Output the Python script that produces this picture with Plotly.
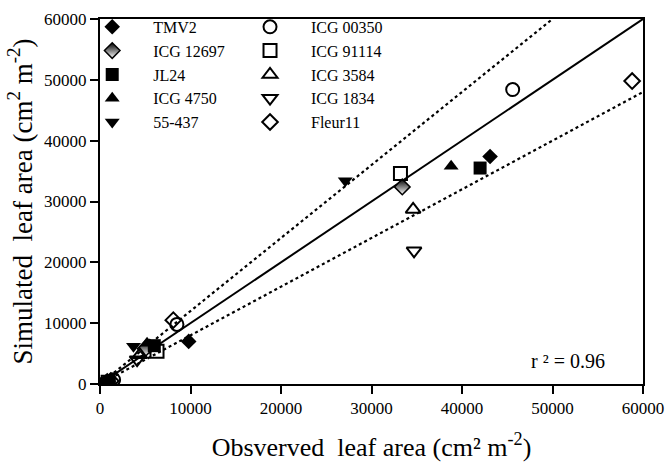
import plotly.graph_objects as go

# ---------------- data ----------------
series_names = ["TMV2", "ICG 12697", "JL24", "ICG 4750", "55-437",
                "ICG 00350", "ICG 91114", "ICG 3584", "ICG 1834", "Fleur11"]

tmv2_obs = [600, 5500, 9800, 43100]
tmv2_sim = [300, 6200, 7000, 37400]
icg12697_obs = [800, 5000, 33400]
icg12697_sim = [400, 5800, 32400]
jl24_obs = [1000, 6000, 42000]
jl24_sim = [200, 6300, 35500]
icg4750_obs = [700, 5200, 38800]
icg4750_sim = [500, 6700, 35800]
s55437_obs = [500, 3700, 27100]
s55437_sim = [300, 6200, 33400]
icg00350_obs = [1500, 8500, 45600]
icg00350_sim = [700, 9800, 48400]
icg91114_obs = [900, 6300, 33200]
icg91114_sim = [300, 5400, 34600]
icg3584_obs = [600, 4400, 34600]
icg3584_sim = [200, 4800, 28700]
icg1834_obs = [400, 4100, 34700]
icg1834_sim = [400, 4000, 21900]
fleur11_obs = [1200, 8100, 58800]
fleur11_sim = [500, 10500, 49800]

one_to_one_x = [0, 60000]
one_to_one_y = [0, 60000]
upper_x = [0, 50000]
upper_y = [0, 60000]
lower_x = [0, 60000]
lower_y = [0, 48000]

axis_ticks = [0, 10000, 20000, 30000, 40000, 50000, 60000]
r2_text = "r ² = 0.96"

FONT = "Liberation Serif, Times New Roman, serif"

fig = go.Figure()

# reference lines
fig.add_trace(go.Scatter(x=one_to_one_x, y=one_to_one_y, mode="lines",
                         line=dict(color="black", width=2), showlegend=False, hoverinfo="skip"))
fig.add_trace(go.Scatter(x=upper_x, y=upper_y, mode="lines",
                         line=dict(color="black", width=2.2, dash="dot"), showlegend=False, hoverinfo="skip"))
fig.add_trace(go.Scatter(x=lower_x, y=lower_y, mode="lines",
                         line=dict(color="black", width=2.2, dash="dot"), showlegend=False, hoverinfo="skip"))

col1 = [
    ("TMV2", tmv2_obs, tmv2_sim, dict(symbol="diamond", size=12, color="black")),
    ("ICG 12697", icg12697_obs, icg12697_sim,
     dict(symbol="diamond", size=12, color="black",
          gradient=dict(type="vertical", color="white"),
          line=dict(color="black", width=1.5))),
    ("JL24", jl24_obs, jl24_sim, dict(symbol="square", size=13, color="black")),
    ("ICG 4750", icg4750_obs, icg4750_sim, dict(symbol="triangle-up", size=13, color="black")),
    ("55-437", s55437_obs, s55437_sim, dict(symbol="triangle-down", size=13, color="black")),
]
col2 = [
    ("ICG 00350", icg00350_obs, icg00350_sim, dict(symbol="circle-open", size=13, color="black", line=dict(width=2))),
    ("ICG 91114", icg91114_obs, icg91114_sim, dict(symbol="square-open", size=13, color="black", line=dict(width=2))),
    ("ICG 3584", icg3584_obs, icg3584_sim, dict(symbol="triangle-up-open", size=13, color="black", line=dict(width=2))),
    ("ICG 1834", icg1834_obs, icg1834_sim, dict(symbol="triangle-down-open", size=13, color="black", line=dict(width=2))),
    ("Fleur11", fleur11_obs, fleur11_sim, dict(symbol="diamond-open", size=12, color="black", line=dict(width=2))),
]

for name, xs, ys, mk in col1:
    fig.add_trace(go.Scatter(x=xs, y=ys, mode="markers", name=name, marker=mk, legend="legend"))
for name, xs, ys, mk in col2:
    fig.add_trace(go.Scatter(x=xs, y=ys, mode="markers", name=name, marker=mk, legend="legend2"))

axis_common = dict(
    range=[0, 60000], tickvals=axis_ticks, ticktext=[str(v) for v in axis_ticks],
    showgrid=False, zeroline=False, showline=True, linecolor="black", linewidth=2,
    mirror=True, ticks="outside", ticklen=8, tickwidth=2, tickcolor="black",
    tickfont=dict(family=FONT, size=17, color="black"), automargin=False,
)

leg_common = dict(font=dict(family=FONT, size=16, color="black"), bgcolor="rgba(0,0,0,0)",
                  borderwidth=0, itemwidth=72, yanchor="top", xanchor="left",
                  tracegroupgap=0, itemclick=False)

fig.update_layout(
    template="none",
    width=666, height=464,
    margin=dict(l=100, r=23, t=10, b=80),
    paper_bgcolor="white", plot_bgcolor="white",
    font=dict(family=FONT, color="black"),
    xaxis=dict(axis_common, title=dict(text="Obsverved  leaf area (cm² m<sup>-2</sup>)",
                                       font=dict(family=FONT, size=26, color="black"), standoff=20)),
    yaxis=dict(axis_common, title=dict(text="Simulated  leaf area (cm<sup>2</sup> m<sup>-2</sup>)",
                                       font=dict(family=FONT, size=27, color="black"), standoff=4)),
    legend=dict(leg_common, x=-0.053, y=1.025),
    legend2=dict(leg_common, x=0.2376, y=1.025),
    annotations=[dict(text=r2_text, xref="paper", yref="paper", x=0.862, y=0.063,
                      xanchor="center", yanchor="middle", showarrow=False,
                      font=dict(family=FONT, size=20, color="black"))],
)

fig.write_html("out.html", config={"displayModeBar": False},
               post_script="document.body.style.margin='0';")
